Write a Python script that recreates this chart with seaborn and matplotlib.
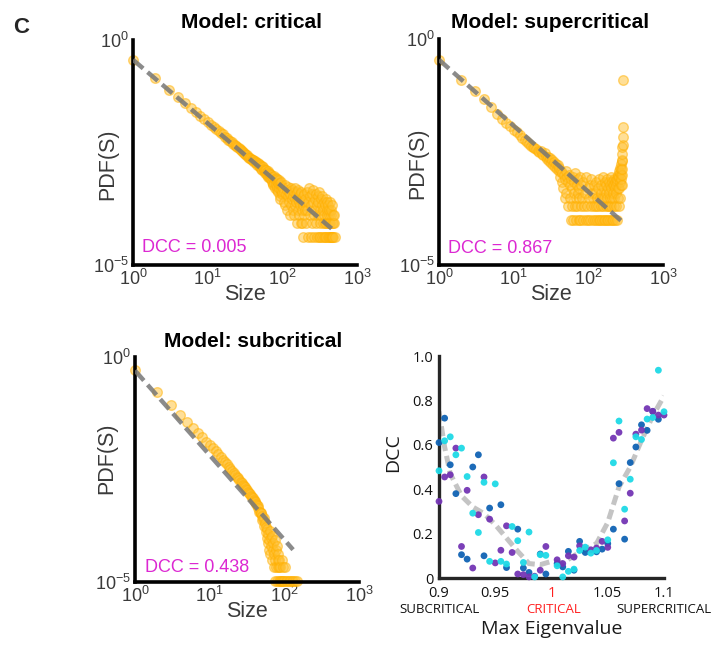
import matplotlib
matplotlib.use('Agg')
import matplotlib.pyplot as plt
import matplotlib.ticker as mticker
import numpy as np
import pandas as pd
import seaborn as sns

# ---------------- avalanche size distributions (counts per size) ----------------
crit_sizes = [1, 2, 3, 4, 5, 6, 7, 8, 9, 10, 11, 12, 13, 14, 15, 16, 17, 18, 19, 20,
              21, 22, 23, 24, 25, 26, 27, 28, 29, 30, 31, 32, 33, 34, 35, 36, 37, 38, 39, 40,
              41, 42, 43, 44, 45, 46, 47, 48, 49, 50, 51, 52, 53, 54, 55, 56, 57, 58, 59, 60,
              61, 62, 63, 64, 65, 66, 67, 68, 69, 70, 71, 72, 73, 74, 75, 76, 77, 78, 79, 80,
              81, 82, 83, 84, 85, 86, 87, 88, 89, 90, 91, 92, 93, 94, 95, 96, 97, 98, 99, 100,
              102, 104, 106, 108, 110, 112, 114, 116, 118, 120, 122, 124, 126, 128, 130, 132,
              134, 136, 138, 140, 142, 144, 146, 148, 150, 152, 154, 156, 158, 160, 162, 164,
              166, 168, 170, 172, 174, 176, 178, 180, 182, 184, 186, 188, 190, 192, 194, 196,
              198, 200,
              204, 208, 212, 216, 220, 224, 228, 232, 236, 240, 244, 248, 252, 256, 260, 264,
              268, 272, 276, 280, 284, 288, 292, 296, 300, 304, 308, 312, 316, 320, 324, 328,
              332, 336, 340, 344, 348, 352, 356, 360, 364, 368, 372, 376, 380, 384, 388, 392,
              396, 400, 404, 408, 412, 416, 420, 424, 428, 432, 436, 440, 444, 448, 452, 456,
              460, 464, 468, 472, 476, 480, 488, 496, 504]
crit_counts = [8570, 3450, 1880, 1260, 930, 720, 590, 480, 410, 355, 310, 282, 245, 226, 200,
               190, 168, 161, 143, 139,
               128, 118, 112, 103, 99, 95, 88, 84, 80, 76, 74, 68, 66, 65, 60, 58, 57, 54, 52, 50,
               52, 47, 49, 43, 46, 40, 44, 37, 41, 36, 40, 33, 37, 30, 35, 29, 33, 27, 31, 26,
               30, 24, 28, 22, 29, 21, 26, 20, 25, 19,
               24, 17, 22, 15, 21, 14, 23, 16, 19, 12, 20, 15, 18, 11, 19, 13, 16, 10, 18, 12,
               15, 8, 16, 7, 14, 11, 17, 9, 13, 10,
               12, 6, 10, 14, 5, 9, 11, 4, 8, 13, 6, 10, 3, 9, 12, 5, 7, 11, 4, 8, 10, 3, 7, 12, 5,
               9, 6, 2, 10, 7, 4, 11, 6, 3, 8, 5, 9, 2, 7, 10, 4, 6, 2, 8, 5, 1, 9, 3, 6, 4,
               7, 2, 10, 4, 1, 6, 12, 3, 8, 1, 5, 9, 2, 6, 11, 3, 1, 7, 4, 9,
               2, 5, 1, 8, 3, 6, 1, 10, 2, 4, 1, 7, 3, 5, 1, 8, 2, 4, 1, 6,
               3, 2, 1, 5, 7, 2, 1, 4, 3, 6, 1, 2, 5, 1, 3, 4, 2, 1, 6, 2,
               1, 3, 4, 1, 2, 5, 1, 3, 2, 1, 2, 3, 1]
crit_total = 23800

super_sizes = [1, 2, 3, 4, 5, 6, 7, 8, 9, 10, 11, 12, 13, 14, 15, 16, 17, 18, 19, 20,
               21, 22, 23, 24, 25, 26, 27, 28, 29, 30, 31, 32, 33, 34, 35, 36, 37, 38, 39, 40,
               41, 42, 43, 44, 45, 46, 47, 48, 49, 50, 51, 52, 53, 54, 55, 56, 57, 58, 59, 60,
               61, 62, 63, 64, 65, 66, 67, 68, 69, 70, 71, 72, 73, 74, 75, 76, 77, 78, 79, 80,
               82, 84, 86, 88, 90, 92, 94, 96, 98, 100, 102, 104, 106, 108, 110, 112, 114, 116,
               118, 120, 122, 124, 126, 128, 130, 132, 134, 136, 138, 140, 142, 144, 146, 148,
               150, 152, 154, 156, 158, 160, 162, 164, 166, 168, 170, 172, 174, 176, 178, 180,
               182, 184, 186, 188, 190, 192, 194, 196, 198, 200,
               202, 204, 206, 208, 210, 212, 214, 216, 218, 220, 222, 224, 226, 228, 230, 232,
               234, 236, 238, 240, 242, 244, 246, 248, 250, 252, 254, 256, 258, 260, 262, 264,
               266, 268, 270, 272, 274, 276, 278, 280,
               281, 282, 283, 284, 285, 286, 287, 288, 289, 290]
super_counts = [3450, 1230, 720, 470, 310, 215, 172, 140, 118, 98, 86, 76, 66, 58, 52, 48, 44,
                40, 38, 36,
                34, 31, 33, 28, 27, 30, 24, 22, 25, 20, 23, 18, 21, 16, 19, 15, 17, 13, 16, 12,
                14, 9, 12, 7, 11, 5, 10, 3, 8, 12, 4, 9, 2, 7, 10, 3, 6, 1, 8, 2,
                5, 9, 1, 4, 7, 2, 11, 3, 1, 6, 2, 8, 4, 1, 5, 3, 9, 1, 2, 6,
                3, 1, 7, 2, 4, 1, 9, 2, 5, 1, 3, 6, 1, 2, 8, 4, 1, 3, 2, 6,
                1, 4, 2, 7, 1, 3, 5, 2, 1, 8, 3, 1, 4, 2, 6, 1, 3, 9, 2, 1,
                5, 3, 7, 1, 2, 4, 6, 1, 3, 8, 2, 5, 1, 4, 7, 2, 3, 1, 6, 9,
                2, 5, 1, 7, 3, 6, 1, 4, 8, 2, 6, 3, 7, 1, 5, 8, 2, 6, 4, 7,
                1, 8, 3, 9, 5, 10, 2, 9, 5, 12, 7, 3, 11, 14, 6, 10, 17, 8, 13, 20,
                6, 10, 13, 21, 28, 40, 45, 69, 115, 1230]
super_total = 10000

sub_sizes = [1, 2, 3, 4, 5, 6, 7, 8, 9, 10, 11, 12, 13, 14, 15, 16, 17, 18, 19, 20,
             21, 22, 23, 24, 25, 26, 27, 28, 29, 30, 31, 32, 33, 34, 35, 36, 37, 38, 39, 40,
             41, 42, 43, 44, 45, 46, 47, 48, 49, 50, 51, 52, 53, 54, 55, 56, 57, 58, 59, 60,
             61, 62, 63, 64, 65, 66, 67, 68, 69, 70, 71, 72, 73, 74, 75, 76, 77, 78, 79, 80,
             81, 82, 83, 84, 85, 86, 87, 88, 90, 92, 93, 95, 97, 100, 103, 105, 110, 115, 120,
             125, 130, 140, 148]
sub_counts = [47700, 16200, 8100, 4890, 3460, 2560, 1990, 1545, 1255, 1045,
              890, 755, 660, 575, 490, 435, 390, 338, 308, 275,
              250, 228, 208, 190, 173, 158, 147, 138, 128, 120,
              112, 104, 97, 91, 85, 79, 74, 71, 64, 60,
              56, 52, 48, 46, 41, 35, 35, 33, 32, 28, 23, 24, 25, 17, 19,
              16, 12, 9, 14, 7, 11, 5, 8, 13, 4, 9, 6, 3, 10, 5, 7, 2, 4, 8, 1,
              3, 5, 2, 6, 1, 3, 2, 4, 1, 2, 3, 1, 2,
              1, 3, 1, 2, 1, 1, 2, 1, 1, 1, 1, 1, 1, 1, 1]
sub_total = 95000

# power-law fits: exponent, amplitude, largest size of the fit
crit_fit = [1.41, 0.363, 457]
super_fit = [1.46, 0.347, 288]
sub_fit = [1.88, 0.50, 131]

dcc_values = ['0.005', '0.867', '0.438']
titles = ['Model: critical', 'Model: supercritical', 'Model: subcritical']

# ---------------- DCC vs max eigenvalue ----------------
blue_eig = [0.900, 0.905, 0.910, 0.915, 0.920, 0.925, 0.930, 0.935, 0.940, 0.945, 0.955,
            0.960, 0.970, 0.975, 0.980, 0.990, 0.995, 1.005, 1.010, 1.015, 1.020, 1.025,
            1.030, 1.040, 1.045, 1.050, 1.055, 1.060, 1.065, 1.070, 1.075, 1.080, 1.085,
            1.090, 1.095]
blue_dcc = [0.61, 0.72, 0.51, 0.38, 0.105, 0.085, 0.50, 0.555, 0.10, 0.315, 0.33,
            0.047, 0.22, 0.045, 0.025, 0.108, 0.018, 0.065, 0.05, 0.12, 0.035, 0.165,
            0.115, 0.118, 0.13, 0.155, 0.22, 0.425, 0.175, 0.52, 0.59, 0.69, 0.665,
            0.75, 0.715]
purple_eig = [0.900, 0.905, 0.910, 0.915, 0.920, 0.925, 0.930, 0.935, 0.940, 0.945, 0.950,
              0.955, 0.960, 0.965, 0.970, 0.975, 0.980, 0.985, 0.990, 0.995, 1.005, 1.010,
              1.015, 1.020, 1.025, 1.035, 1.040, 1.045, 1.050, 1.055, 1.060, 1.065, 1.070,
              1.075, 1.080, 1.085, 1.090, 1.095, 1.100]
purple_dcc = [0.345, 0.455, 0.465, 0.585, 0.142, 0.395, 0.045, 0.285, 0.455, 0.265, 0.068,
              0.125, 0.235, 0.115, 0.018, 0.015, 0.005, 0.008, 0.035, 0.142, 0.082, 0.065,
              0.10, 0.094, 0.145, 0.127, 0.135, 0.165, 0.138, 0.63, 0.656, 0.257, 0.382,
              0.648, 0.666, 0.763, 0.751, 0.734, 0.734]
cyan_eig = [0.900, 0.905, 0.910, 0.915, 0.920, 0.925, 0.930, 0.935, 0.940, 0.945, 0.950,
            0.955, 0.960, 0.965, 0.970, 0.975, 0.980, 0.985, 0.990, 0.995, 1.005, 1.010,
            1.015, 1.020, 1.025, 1.030, 1.035, 1.040, 1.050, 1.055, 1.060, 1.065, 1.070,
            1.075, 1.080, 1.085, 1.090, 1.095, 1.100]
cyan_dcc = [0.483, 0.618, 0.636, 0.555, 0.585, 0.457, 0.292, 0.205, 0.431, 0.075, 0.424,
            0.075, 0.063, 0.232, 0.168, 0.07, 0.207, 0.005, 0.105, 0.102, 0.055, 0.005,
            0.03, 0.04, 0.124, 0.139, 0.112, 0.124, 0.172, 0.519, 0.707, 0.31, 0.445,
            0.636, 0.624, 0.716, 0.723, 0.936, 0.749]
trend_eig = [0.90, 0.905, 0.91, 0.92, 0.93, 0.94, 0.95, 0.96, 0.97, 0.98, 0.99, 1.00, 1.01,
             1.02, 1.03, 1.04, 1.05, 1.06, 1.07, 1.08, 1.09, 1.10]
trend_dcc = [0.75, 0.59, 0.47, 0.37, 0.32, 0.29, 0.24, 0.18, 0.12, 0.065, 0.06, 0.075, 0.068,
             0.10, 0.13, 0.155, 0.25, 0.41, 0.50, 0.62, 0.73, 0.82]
eig_ticks = [0.9, 0.95, 1.0, 1.05, 1.1]
eig_ticklabels = ['0.9', '0.95', '1', '1.05', '1.1']
regime_pos = [0.9, 1.002, 1.1]
regime_names = ['SUBCRITICAL', 'CRITICAL', 'SUPERCRITICAL']

# ---------------- style ----------------
sns.set_style('white')
plt.rcParams['font.family'] = ['Liberation Sans', 'DejaVu Sans']
plt.rcParams['mathtext.fontset'] = 'custom'
plt.rcParams['mathtext.rm'] = 'Liberation Sans'
plt.rcParams['mathtext.default'] = 'regular'

orange = '#FFC030'
magenta = '#DC28D2'
txt_gray = '#3a3a3a'

fig = plt.figure(figsize=(7.11, 6.47), dpi=100)
W, H = 711, 647


def px_axes(x0, y0, x1, y1):
    return fig.add_axes([x0 / W, 1 - y1 / H, (x1 - x0) / W, (y1 - y0) / H])


def pdf_panel(ax, sizes, counts, total, fit, dcc, title, title_x, title_y,
              ylab_x, ylab_y, dcc_x, dcc_y):
    df = pd.DataFrame({'Size': sizes, 'PDF': np.array(counts) / total})
    ax.set_xscale('log')
    ax.set_yscale('log')
    sns.scatterplot(data=df, x='Size', y='PDF', ax=ax, s=48, color=orange, alpha=0.5,
                    edgecolor='#FFB000', linewidth=1.0, clip_on=False, zorder=2)
    fx = np.array([1.0, fit[2]])
    fit_df = pd.DataFrame({'Size': fx, 'PDF': fit[1] * fx ** (-fit[0])})
    sns.lineplot(data=fit_df, x='Size', y='PDF', ax=ax, color='#777777', lw=3.2,
                 ls=(0, (3, 1.3)), alpha=0.85, zorder=3, errorbar=None)
    ax.set_xlim(1, 1000)
    ax.set_ylim(1e-5, 1)
    ax.set_xticks([1, 10, 100, 1000])
    ax.set_xticklabels(['$10^{0}$', '$10^{1}$', '$10^{2}$', '$10^{3}$'])
    ax.xaxis.set_minor_locator(mticker.LogLocator(base=10, subs=np.arange(2, 10)))
    ax.xaxis.set_minor_formatter(mticker.NullFormatter())
    ax.set_yticks([1e-5, 1])
    ax.set_yticklabels(['$10^{-5}$', '$10^{0}$'])
    ax.yaxis.set_minor_locator(mticker.NullLocator())
    ax.tick_params(axis='both', which='major', direction='in', length=4, width=1.5,
                   labelsize=13, labelcolor=txt_gray, pad=3)
    ax.tick_params(axis='x', which='minor', direction='in', length=2.5, width=1.2)
    for side in ['top', 'right']:
        ax.spines[side].set_visible(False)
    for side in ['left', 'bottom']:
        ax.spines[side].set_linewidth(2.6)
        ax.spines[side].set_color('black')
    ax.set_xlabel('Size', fontsize=15.5, color=txt_gray)
    ax.set_ylabel('PDF(S)', fontsize=15.5, color=txt_gray)
    ax.xaxis.set_label_coords(0.5, -0.085)
    ax.yaxis.set_label_coords(ylab_x, ylab_y)
    ax.text(title_x, title_y, title, transform=ax.transAxes, ha='center', va='baseline',
            fontsize=15, fontweight='bold', color='black')
    ax.text(dcc_x, dcc_y, 'DCC = ' + dcc, transform=ax.transAxes, ha='left', va='baseline',
            fontsize=13, color=magenta)


ax1 = px_axes(133, 40, 357, 265)
pdf_panel(ax1, crit_sizes, crit_counts, crit_total, crit_fit, dcc_values[0], titles[0],
          0.527, 1.053, -0.067, 0.449, 0.04, 0.058)

ax2 = px_axes(439, 39, 663, 265)
pdf_panel(ax2, super_sizes, super_counts, super_total, super_fit, dcc_values[1], titles[1],
          0.495, 1.049, -0.05, 0.449, 0.04, 0.053)

ax3 = px_axes(135, 357, 359, 582)
pdf_panel(ax3, sub_sizes, sub_counts, sub_total, sub_fit, dcc_values[2], titles[2],
          0.529, 1.044, -0.08, 0.549, 0.045, 0.044)

# ---------------- DCC panel ----------------
ax4 = px_axes(439, 356, 664, 578)
dcc_df = pd.DataFrame({
    'eig': blue_eig + purple_eig + cyan_eig,
    'dcc': blue_dcc + purple_dcc + cyan_dcc,
    'run': ['a'] * len(blue_eig) + ['b'] * len(purple_eig) + ['c'] * len(cyan_eig),
})
trend_df = pd.DataFrame({'eig': trend_eig, 'dcc': trend_dcc})
sns.lineplot(data=trend_df, x='eig', y='dcc', ax=ax4, color='#c4c4c4', lw=3.6,
             ls=(0, (2.0, 1.0)), zorder=1, errorbar=None)
sns.scatterplot(data=dcc_df, x='eig', y='dcc', hue='run', ax=ax4, s=24, linewidth=0,
                palette={'a': '#1063B4', 'b': '#7435B4', 'c': '#1ED9E6'}, alpha=0.95,
                legend=False, clip_on=False, zorder=3)
ax4.set_xlim(0.9, 1.1)
ax4.set_ylim(0, 1.0)
ax4.set_xticks(eig_ticks)
ax4.set_xticklabels(eig_ticklabels)
ax4.set_yticks([0, 0.2, 0.4, 0.6, 0.8, 1.0])
ax4.set_yticklabels(['0', '0.2', '0.4', '0.6', '0.8', '1.0'])
for lab in ax4.get_xticklabels() + ax4.get_yticklabels():
    lab.set_fontfamily(['Open Sans', 'DejaVu Sans'])
ax4.tick_params(axis='both', direction='in', length=4, width=1.5, labelsize=10.5,
                labelcolor='#111111', pad=4)
ax4.tick_params(axis='x', pad=6)
ax4.get_xticklabels()[2].set_color('#FF2020')
for side in ['top', 'right']:
    ax4.spines[side].set_visible(False)
for side in ['left', 'bottom']:
    ax4.spines[side].set_linewidth(2.4)
    ax4.spines[side].set_color('#262626')
ax4.set_xlabel('Max Eigenvalue', fontsize=14, color='#1a1a1a',
               fontfamily=['Open Sans', 'DejaVu Sans'])
ax4.set_ylabel('DCC', fontsize=14, color='#1a1a1a', fontfamily=['Open Sans', 'DejaVu Sans'])
ax4.xaxis.set_label_coords(0.5, -0.19)
ax4.yaxis.set_label_coords(-0.165, 0.563)
trans = ax4.get_xaxis_transform()
for xpos, word, col in zip(regime_pos, regime_names, ['#111111', '#FF2020', '#111111']):
    ax4.text(xpos, -0.14, word, transform=trans, ha='center', va='center', fontsize=9.5,
             color=col, fontfamily=['Open Sans', 'DejaVu Sans'], clip_on=False)

fig.text(13 / W, 1 - 33 / H, 'C', fontsize=16, fontweight='bold', ha='left', va='baseline')

fig.savefig('out.png', dpi=100)
